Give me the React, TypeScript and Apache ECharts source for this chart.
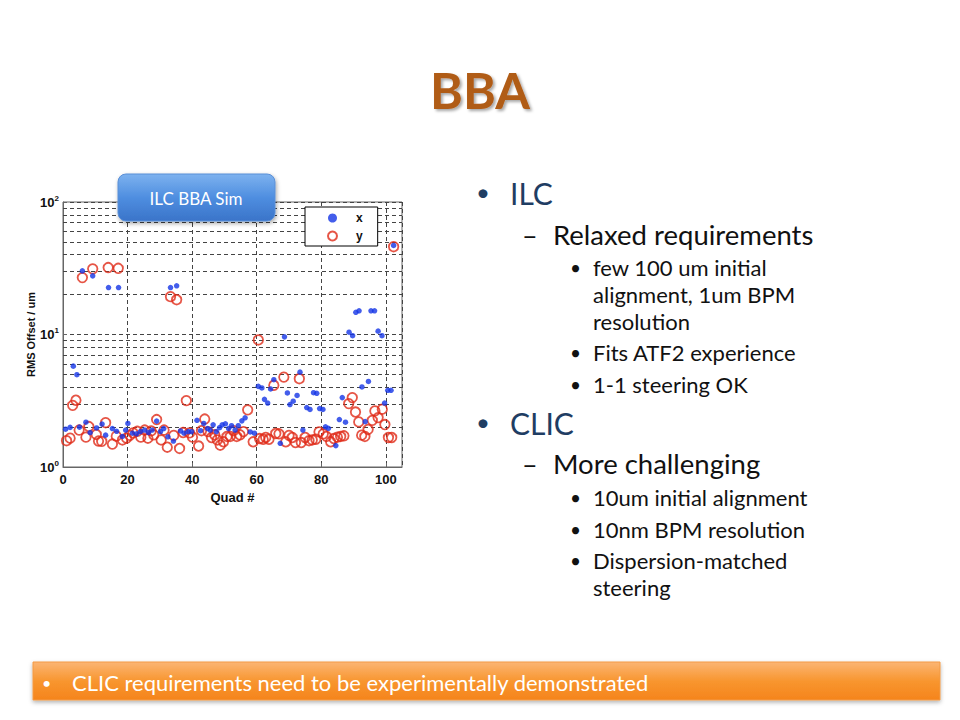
import React, { useEffect, useRef } from "react";
import * as echarts from "echarts";

// Quad number vs RMS offset (um)
const seriesXName = "x";
const seriesYName = "y";

const rmsX: [number, number][] = [
  [0.8, 1.93], [2.2, 1.99], [3.2, 5.77], [4.3, 4.97], [5.1, 2.0], [6, 30.2], [7.1, 2.18], [8.4, 1.82],
  [9.2, 27.7], [10.4, 1.97], [12.1, 2.11], [13.2, 1.74], [14.1, 22.6], [15.3, 1.95], [16.6, 1.86],
  [17.2, 22.6], [18.4, 1.7], [19.4, 1.9], [20.1, 2.13], [21.5, 1.8], [22.8, 1.78], [24, 1.85],
  [25.3, 1.9], [26.5, 1.82], [27.6, 1.9], [29, 2.22], [30.2, 1.85], [31.2, 1.95], [32.5, 1.69],
  [33.3, 22.6], [34.2, 1.57], [35.2, 23.3], [36.4, 1.87], [37.5, 1.8], [38.8, 1.85], [39.8, 1.85],
  [41.5, 2.25], [42.6, 1.88], [43.6, 2.13], [44.8, 1.95], [45.6, 1.9], [46.5, 2.08], [47.5, 1.85],
  [48.5, 1.98], [49.3, 2.08], [50.3, 2.12], [51.3, 1.95], [52.2, 2.05], [53.3, 1.9], [54.3, 2.05],
  [55.4, 2.23], [56.4, 2.35], [58, 1.84], [59.3, 1.8], [60.5, 4.06], [61.6, 3.95], [62.4, 3.24],
  [63.4, 3.04], [64.3, 3.88], [65.3, 4.56], [67.3, 1.51], [68.6, 9.6], [69.5, 3.62], [70.3, 2.96],
  [71.3, 3.14], [72.5, 3.47], [73.4, 5.2], [74.3, 1.9], [75.5, 2.81], [76.5, 2.72], [77.6, 3.64],
  [78.6, 3.6], [79.5, 2.76], [80.5, 2.72], [81.3, 2.01], [82.2, 1.96], [84.5, 1.45], [85.6, 2.28],
  [86.5, 3.34], [87.5, 2.18], [88.6, 10.4], [89.7, 9.8], [90.7, 14.7], [91.7, 15.1], [92.6, 4.02],
  [93.6, 2.2], [94.6, 4.42], [95.4, 15.1], [96.5, 15.1], [97.6, 10.6], [98.8, 9.8], [99.6, 3.04],
  [100.6, 3.79], [101.6, 3.79], [102.4, 47],
];

const rmsY: [number, number][] = [
  [1.1, 1.58], [2.2, 1.65], [3.0, 2.92], [4.0, 3.19], [5.0, 1.9], [6.0, 26.9], [7.1, 1.68], [8.0, 2.02],
  [9.2, 31.3], [10.3, 1.76], [11, 1.57], [12, 1.56], [13.2, 2.16], [14, 32], [15.3, 1.49], [16.5, 1.71],
  [17.1, 31.6], [18.4, 1.6], [19.7, 1.65], [20.7, 1.73], [21.7, 1.81], [23, 1.86], [24.1, 1.68],
  [25.3, 1.9], [26.3, 1.65], [27.3, 1.87], [28.1, 1.75], [29, 2.28], [30.4, 1.6], [31.3, 1.9],
  [32.3, 1.41], [33.3, 19.3], [34.3, 1.73], [35.2, 18.3], [36.1, 1.38], [37.2, 1.82], [38.2, 3.17],
  [39.2, 1.81], [40.1, 1.68], [42, 1.44], [42.9, 1.88], [43.9, 2.3], [44.9, 1.85], [46, 1.67],
  [47, 1.75], [47.8, 1.6], [48.7, 1.46], [49.7, 1.55], [50.8, 1.7], [51.8, 1.7], [52.8, 1.88],
  [53.8, 1.7], [54.8, 1.75], [55.9, 1.85], [57.2, 2.7], [58.9, 1.55], [60.5, 9.1], [60.9, 1.64],
  [62, 1.62], [62.8, 1.67], [63.8, 1.62], [65.3, 4.14], [65.9, 1.79], [66.9, 1.78], [68.4, 4.77],
  [69, 1.55], [70, 1.73], [71, 1.67], [72, 1.53], [73.2, 4.64], [73.8, 1.53], [75, 1.67], [76.2, 1.58],
  [77.2, 1.6], [78.3, 1.62], [79.3, 1.84], [80.6, 1.78], [81.6, 1.7], [82.9, 1.55], [83.9, 1.64],
  [85, 1.68], [86, 1.7], [87, 1.72], [88.5, 3.01], [89.6, 3.34], [90.6, 2.6], [91.6, 2.19], [92.5, 1.74],
  [93.5, 1.7], [94.5, 1.92], [95.8, 2.25], [96.6, 2.65], [97.6, 2.36], [98.9, 2.73], [99.7, 2.09],
  [100.8, 1.67], [101.8, 1.67], [102.4, 46],
];

const minorGridValues = [2, 3, 4, 5, 6, 7, 8, 9, 20, 30, 40, 50, 60, 70, 80, 90];

const titleText = "BBA";
const boxLabel = "ILC BBA Sim";
const footerText = "CLIC requirements need to be experimentally demonstrated";

type Bullet = { level: number; text: string; y: number };
const bullets: Bullet[] = [
  { level: 1, text: "ILC", y: 193 },
  { level: 2, text: "Relaxed requirements", y: 234 },
  { level: 3, text: "few 100 um initial", y: 267 },
  { level: 4, text: "alignment, 1um BPM", y: 294 },
  { level: 4, text: "resolution", y: 321 },
  { level: 3, text: "Fits ATF2 experience", y: 352 },
  { level: 3, text: "1-1 steering OK", y: 384 },
  { level: 1, text: "CLIC", y: 423 },
  { level: 2, text: "More challenging", y: 463 },
  { level: 3, text: "10um initial alignment", y: 497 },
  { level: 3, text: "10nm BPM resolution", y: 529 },
  { level: 3, text: "Dispersion-matched", y: 560 },
  { level: 4, text: "steering", y: 587 },
];

const FONT = "Lato, 'Open Sans', sans-serif";
const AXFONT = "Arial, 'Liberation Sans', sans-serif";

export default function App() {
  const ref = useRef<HTMLDivElement>(null);

  useEffect(() => {
    if (!ref.current) return;
    const chart = echarts.init(ref.current, undefined, { renderer: "svg" });

    const bulletGraphics: any[] = [];
    bullets.forEach((b) => {
      if (b.level === 1) {
        bulletGraphics.push({
          type: "text", left: 476, top: b.y - 14,
          style: { text: "•", fontSize: 24, fill: "#1f3d63", fontFamily: FONT },
        });
        bulletGraphics.push({
          type: "text", x: 510, y: b.y,
          style: { text: b.text, fontSize: 30, fill: "#1f3d63", fontFamily: FONT, textVerticalAlign: "middle" },
        });
      } else if (b.level === 2) {
        bulletGraphics.push({
          type: "text", x: 522, y: b.y,
          style: { text: "–", fontSize: 27, fill: "#111", fontFamily: FONT, textVerticalAlign: "middle" },
        });
        bulletGraphics.push({
          type: "text", x: 553, y: b.y,
          style: { text: b.text, fontSize: 27.5, fill: "#111", fontFamily: FONT, textVerticalAlign: "middle" },
        });
      } else {
        if (b.level === 3) {
          bulletGraphics.push({
            type: "text", x: 570, y: b.y,
            style: { text: "•", fontSize: 19, fill: "#111", fontFamily: FONT, textVerticalAlign: "middle" },
          });
        }
        bulletGraphics.push({
          type: "text", x: 593, y: b.y,
          style: { text: b.text, fontSize: 22, fill: "#111", fontFamily: FONT, textVerticalAlign: "middle" },
        });
      }
    });

    const option: any = {
      animation: false,
      backgroundColor: "#ffffff",
      grid: {
        left: 63, top: 202, width: 339, height: 265,
        show: true, borderColor: "#666", borderWidth: 1, backgroundColor: "#fff",
      },
      legend: {
        data: [seriesXName, seriesYName],
        orient: "vertical",
        left: 305, top: 207,
        backgroundColor: "#fff",
        borderColor: "#000", borderWidth: 1, borderRadius: 0,
        padding: [5, 15, 4, 22],
        itemGap: 6,
        itemWidth: 9, itemHeight: 9,
        textStyle: { fontSize: 12, fontWeight: "bold", color: "#111", fontFamily: AXFONT, padding: [0, 0, 0, 14] },
      },
      xAxis: {
        type: "value", min: 0, max: 105, interval: 20,
        name: "Quad #", nameLocation: "middle", nameGap: 24,
        nameTextStyle: { fontSize: 13, fontWeight: "bold", color: "#111", fontFamily: AXFONT },
        axisLine: { show: true, lineStyle: { color: "#666" } },
        axisTick: { show: true, inside: true, length: 4, lineStyle: { color: "#666" } },
        axisLabel: {
          fontSize: 13, fontWeight: "bold", color: "#111", margin: 6, fontFamily: AXFONT,
          showMaxLabel: false,
          formatter: (v: number) => (v % 20 === 0 ? String(v) : ""),
        },
        splitLine: { show: true, lineStyle: { color: "#444", type: [4, 3], width: 1 } },
      },
      yAxis: {
        type: "log", logBase: 10, min: 1, max: 100,
        name: "RMS Offset / um", nameLocation: "middle", nameGap: 27, nameRotate: 90,
        nameTextStyle: { fontSize: 11, fontWeight: "bold", color: "#111", fontFamily: AXFONT },
        axisLine: { show: true, lineStyle: { color: "#666" } },
        axisTick: { show: true, inside: true, length: 4, lineStyle: { color: "#666" } },
        axisLabel: {
          margin: 4,
          formatter: (v: number) => `10{sup|${Math.round(Math.log10(v))}}`,
          rich: {
            sup: { fontSize: 8, fontWeight: "bold", color: "#111", verticalAlign: "top", padding: [0, 0, 8, 0], fontFamily: AXFONT },
          },
          fontSize: 13, fontWeight: "bold", color: "#111", fontFamily: AXFONT,
        },
        splitLine: { show: true, lineStyle: { color: "#444", type: [4, 3], width: 1 } },
      },
      series: [
        {
          name: seriesYName, type: "scatter", data: rmsY,
          symbol: "circle", symbolSize: 9.5,
          itemStyle: { color: "rgba(255,255,255,0)", borderColor: "#e02a18", borderWidth: 1.8 },
          z: 3,
          markLine: {
            silent: true, symbol: "none",
            label: { show: false },
            lineStyle: { color: "#444", type: [4, 3], width: 1 },
            data: minorGridValues.map((v) => ({ yAxis: v })),
            z: 1,
          },
        },
        {
          name: seriesXName, type: "scatter", data: rmsX,
          symbol: "circle", symbolSize: 5.5,
          itemStyle: { color: "#1434e6" },
          z: 4,
        },
      ],
      graphic: [
        {
          type: "text", x: 480, y: 90, z: 10,
          style: {
            text: titleText, fontSize: 50, fontWeight: "bold", fill: "#b05c18",
            fontFamily: FONT, textAlign: "center", textVerticalAlign: "middle",
            textShadowColor: "rgba(0,0,0,0.35)", textShadowOffsetX: 2, textShadowOffsetY: 2, textShadowBlur: 3,
          },
        },
        {
          type: "rect", z: 100,
          shape: { x: 118, y: 174, width: 157, height: 47, r: 8 },
          style: {
            fill: new echarts.graphic.LinearGradient(0, 0, 0, 1, [
              { offset: 0, color: "#7db2ef" },
              { offset: 0.5, color: "#4f8ee0" },
              { offset: 1, color: "#3a74c9" },
            ]),
            stroke: "#5b8fd6", lineWidth: 1,
            shadowColor: "rgba(0,0,0,0.35)", shadowBlur: 4, shadowOffsetX: 1, shadowOffsetY: 2,
          },
        },
        {
          type: "text", x: 196, y: 198, z: 101,
          style: {
            text: boxLabel, fontSize: 17, fill: "#ffffff", fontFamily: FONT,
            textAlign: "center", textVerticalAlign: "middle",
          },
        },
        ...bulletGraphics,
        {
          type: "rect", z: 50,
          shape: { x: 33, y: 662, width: 907, height: 38 },
          style: {
            fill: new echarts.graphic.LinearGradient(0, 0, 0, 1, [
              { offset: 0, color: "#fbb574" },
              { offset: 0.5, color: "#f8962f" },
              { offset: 1, color: "#f5841c" },
            ]),
            stroke: "#f39a44", lineWidth: 1,
            shadowColor: "rgba(0,0,0,0.3)", shadowBlur: 4, shadowOffsetY: 2,
          },
        },
        {
          type: "text", x: 42, y: 682, z: 51,
          style: { text: "•", fontSize: 16, fill: "#fff", fontFamily: FONT, textVerticalAlign: "middle" },
        },
        {
          type: "text", x: 72, y: 682, z: 51,
          style: { text: footerText, fontSize: 22, fill: "#fff", fontFamily: FONT, textVerticalAlign: "middle" },
        },
      ],
    };

    chart.setOption(option);
    return () => chart.dispose();
  }, []);

  return (
    <div
      ref={ref}
      style={{ position: "absolute", left: 0, top: 0, width: 960, height: 720 }}
    />
  );
}
